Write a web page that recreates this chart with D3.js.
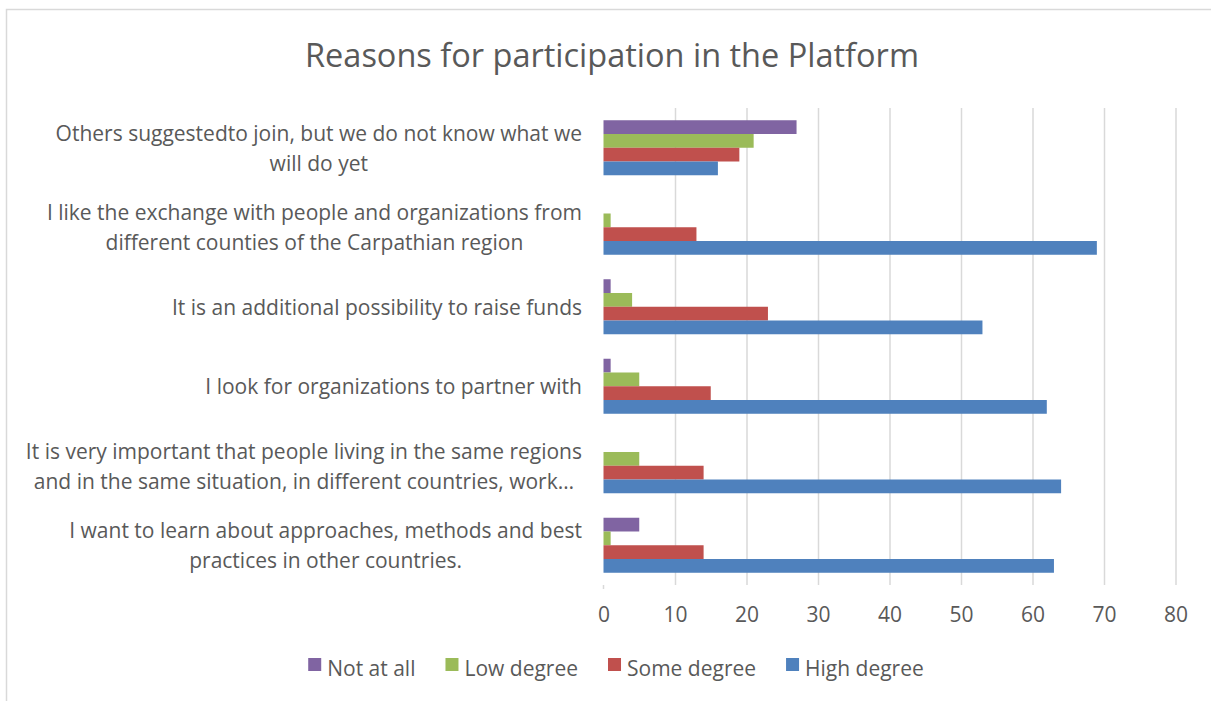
<!DOCTYPE html>
<html>
<head>
<meta charset="utf-8">
<script src="https://cdn.jsdelivr.net/npm/d3@7"></script>
<style>
  html, body { margin: 0; padding: 0; background: #ffffff; }
  svg { display: block; }
  text { font-family: "Open Sans", "Liberation Sans", sans-serif; fill: #595959; }
</style>
</head>
<body>
<svg id="chart" width="1211" height="701"></svg>
<script>
// ---- data ----
const categories = [
  "Others suggestedto join, but we do not know what we\nwill do yet",
  "I like the exchange with people and organizations from\ndifferent counties of the Carpathian region",
  "It is an additional possibility to raise funds",
  "I look for organizations to partner with",
  "It is very important that people living in the same regions\nand in the same situation, in different countries, work…",
  "I want to learn about approaches, methods and best\npractices in other countries."
];
const seriesNames = ["Not at all", "Low degree", "Some degree", "High degree"];
const notAtAll   = [27, 0, 1, 1, 0, 5];
const lowDegree  = [21, 1, 4, 5, 5, 1];
const someDegree = [19, 13, 23, 15, 14, 14];
const highDegree = [16, 69, 53, 62, 64, 63];
const xTicks = [0, 10, 20, 30, 40, 50, 60, 70, 80];
const title = "Reasons for participation in the Platform";

const seriesValues = [notAtAll, lowDegree, someDegree, highDegree];
const colors = ["#8064A2", "#9BBB59", "#C0504D", "#4F81BD"];

// ---- layout ----
const svg = d3.select("#chart");
const plot = { left: 603.5, right: 1175.5, top: 108, bottom: 585 };
const fontSize = 21;

// frame
svg.append("path")
  .attr("d", `M6.5,${701 + 5} V9.5 H${1211 + 5}`)
  .attr("fill", "none")
  .attr("stroke", "#d9d9d9")
  .attr("stroke-width", 1.5);

const x = d3.scaleLinear().domain([0, 80]).range([plot.left, plot.right]);
const y0 = d3.scaleBand().domain(d3.range(categories.length)).range([plot.top, plot.bottom]).padding(0);
const y1 = d3.scaleBand().domain(d3.range(seriesNames.length))
  .range([0, y0.bandwidth()]).paddingInner(0).paddingOuter(0.89);

// gridlines via axis
const xAxis = d3.axisBottom(x).tickValues(xTicks).tickSize(-(plot.bottom - plot.top)).tickPadding(22);
const gx = svg.append("g").attr("transform", `translate(0,${plot.bottom})`).call(xAxis);
gx.select(".domain").remove();
gx.selectAll(".tick line")
  .attr("stroke", (d) => d === 0 ? "none" : "#d9d9d9")
  .attr("stroke-width", 1.5);
gx.selectAll(".tick text")
  .attr("font-size", fontSize)
  .attr("fill", "#595959")
  .style("font-family", '"Open Sans", "Liberation Sans", sans-serif');
// small tick at zero
svg.append("line")
  .attr("x1", x(0)).attr("x2", x(0))
  .attr("y1", plot.bottom).attr("y2", plot.bottom + 4)
  .attr("stroke", "#d9d9d9").attr("stroke-width", 1.5);

// bars
const groups = svg.append("g").selectAll("g")
  .data(categories)
  .join("g")
  .attr("transform", (d, i) => `translate(0,${y0(i)})`);

groups.selectAll("rect")
  .data((d, i) => seriesValues.map((vals, s) => ({ s, v: vals[i] })))
  .join("rect")
  .attr("x", x(0))
  .attr("y", (d) => y1(d.s))
  .attr("width", (d) => x(d.v) - x(0))
  .attr("height", y1.bandwidth())
  .attr("fill", (d) => colors[d.s]);

// category labels
const labelRight = 582;
const lineH = 30;
categories.forEach((c, i) => {
  const lines = c.split("\n");
  const cy = y0(i) + y0.bandwidth() / 2;
  const g = svg.append("g");
  const texts = lines.map((ln, k) =>
    g.append("text")
      .attr("font-size", fontSize)
      .attr("text-anchor", "middle")
      .attr("dominant-baseline", "central")
      .attr("y", cy + (k - (lines.length - 1) / 2) * lineH)
      .text(ln)
  );
  const maxW = d3.max(texts, (t) => t.node().getComputedTextLength());
  texts.forEach((t) => t.attr("x", labelRight - maxW / 2));
});

// title
svg.append("text")
  .attr("x", 612)
  .attr("y", 67)
  .attr("text-anchor", "middle")
  .attr("font-size", 32.5)
  .text(title);

// legend
const legend = svg.append("g");
let lx = 0;
seriesNames.forEach((name, s) => {
  const g = legend.append("g");
  g.append("rect").attr("x", lx).attr("y", -18).attr("width", 13).attr("height", 13).attr("fill", colors[s]);
  const t = g.append("text").attr("x", lx + 19).attr("y", 0).attr("font-size", fontSize).text(name);
  const w = t.node().getComputedTextLength();
  lx += 19 + w + 30;
});
const legendW = lx - 30;
legend.attr("transform", `translate(${616 - legendW / 2},${676})`);
</script>
</body>
</html>
